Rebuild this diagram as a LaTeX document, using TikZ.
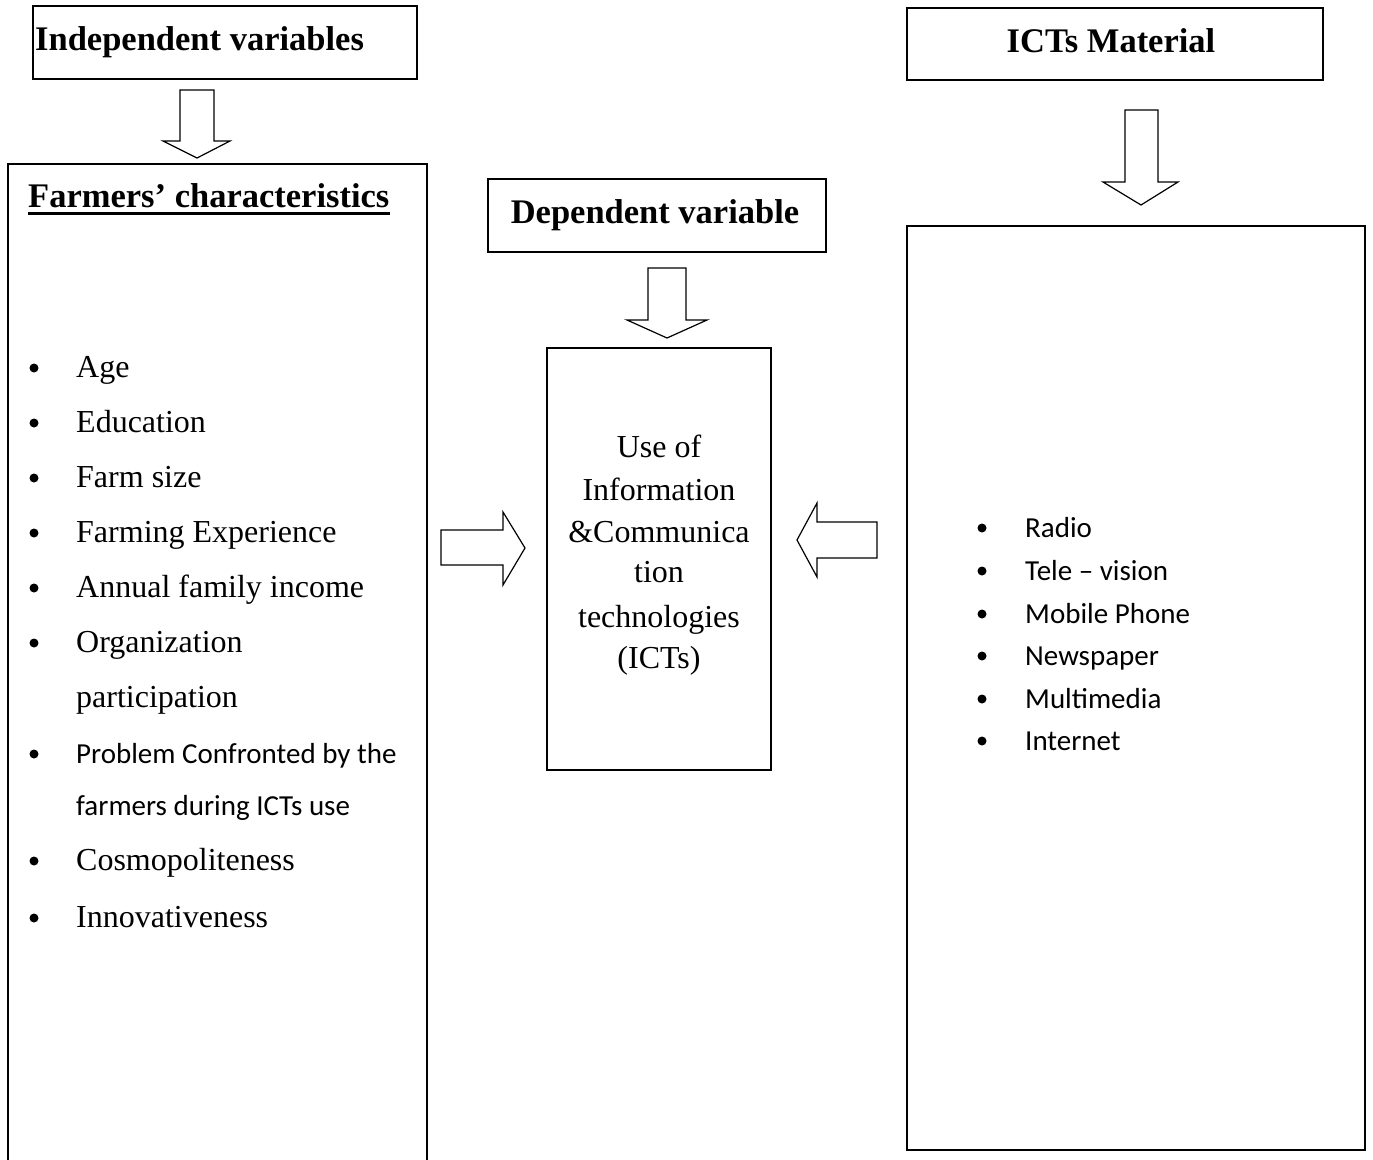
\documentclass[tikz,border=0pt]{standalone}
\usepackage{fontspec}
\setmainfont{Liberation Serif}
\newfontfamily\calibfont{Carlito}
\begin{document}
\begin{tikzpicture}[x=1pt,y=-1pt,
  box/.style={draw, line width=1.6pt, inner sep=0pt},
  blk/.style={draw, line width=1.2pt, line join=miter},
  hd/.style={font=\fontsize{34.5}{40}\selectfont\bfseries, inner sep=0pt},
  lt/.style={font=\fontsize{32}{38}\selectfont, inner sep=0pt, anchor=base west},
  ct/.style={font=\fontsize{32}{38}\selectfont, inner sep=0pt, anchor=base},
  rt/.style={font=\calibfont\fontsize{29}{34}\selectfont, inner sep=0pt, anchor=base west},
  bul/.style={circle, fill, inner sep=0pt, minimum size=9pt}]
\useasboundingbox (0,0) rectangle (1373,1159);
% boxes
\node[box, minimum width=384pt, minimum height=73pt] (indep) at (225,42.5) {};
\node[box, minimum width=419pt, minimum height=1011pt] (farm) at (217.5,669.5) {};
\node[box, minimum width=416pt, minimum height=72pt] (ictm) at (1115,44) {};
\node[box, minimum width=458pt, minimum height=924pt] (media) at (1136,688) {};
\node[box, minimum width=338pt, minimum height=73pt] (dep) at (657,215.5) {};
\node[box, minimum width=224pt, minimum height=422pt] (use) at (659,559) {};
% headings
\node[hd, anchor=base west] (tindep) at (35,50) {Independent variables};
\node[hd, anchor=base] (tictm) at (1111,52) {ICTs Material};
\node[hd, anchor=base] (tdep) at (655,223) {Dependent variable};
\node[hd, anchor=base west] (tfarm) at (28,207) {Farmers’ characteristics};
\draw[line width=2.4pt] ([yshift=-6.5pt]tfarm.base west) -- ([yshift=-6.5pt]tfarm.base east);
% block arrows
\draw[blk] (180,90) -- (214,90) -- (214,141) -- (230,141) -- (197,158) -- (163,141) -- (180,141) -- cycle;
\draw[blk] (1125,110) -- (1158,110) -- (1158,182) -- (1178,182) -- (1141,205) -- (1103,182) -- (1125,182) -- cycle;
\draw[blk] (648,268) -- (686,268) -- (686,320) -- (707,320) -- (667,338) -- (627,320) -- (648,320) -- cycle;
\draw[blk] (441,530) -- (503,530) -- (503,512) -- (525,548) -- (503,585) -- (503,565) -- (441,565) -- cycle;
\draw[blk] (877,522) -- (817,522) -- (817,503) -- (797,540) -- (817,577) -- (817,558) -- (877,558) -- cycle;
% center text
\node[ct] (u1) at (659,457) {Use of};
\node[ct] (u2) at (659,500) {Information};
\node[ct] (u3) at (659,542) {\&Communica};
\node[ct] (u4) at (659,582) {tion};
\node[ct] (u5) at (659,627) {technologies};
\node[ct] (u6) at (659,668) {(ICTs)};
% left list
\node[lt] (l1) at (76,377) {Age};
\node[lt] (l2) at (76,432) {Education};
\node[lt] (l3) at (76,487) {Farm size};
\node[lt] (l4) at (76,542) {Farming Experience};
\node[lt] (l5) at (76,597) {Annual family income};
\node[lt] (l6) at (76,652) {Organization};
\node[lt] (l6b) at (76,707) {participation};
\node[rt] (l7) at (76,763) {Problem Confronted by the};
\node[rt] (l7b) at (76,815) {farmers during ICTs use};
\node[lt] (l8) at (76,870) {Cosmopoliteness};
\node[lt] (l9) at (76,927) {Innovativeness};
\foreach \n/\yy in {b1/377,b2/432,b3/487,b4/542,b5/597,b6/652,b7/763,b8/870,b9/927}
  \node[bul] (\n) at (34,\yy-9) {};
% right list
\node[rt] (r1) at (1025,537) {Radio};
\node[rt] (r2) at (1025,580) {Tele – vision};
\node[rt] (r3) at (1025,623) {Mobile Phone};
\node[rt] (r4) at (1025,665) {Newspaper};
\node[rt] (r5) at (1025,708) {Multimedia};
\node[rt] (r6) at (1025,750) {Internet};
\foreach \n/\yy in {c1/537,c2/580,c3/623,c4/665,c5/708,c6/750}
  \node[bul] (\n) at (982,\yy-9) {};
\end{tikzpicture}
\end{document}
